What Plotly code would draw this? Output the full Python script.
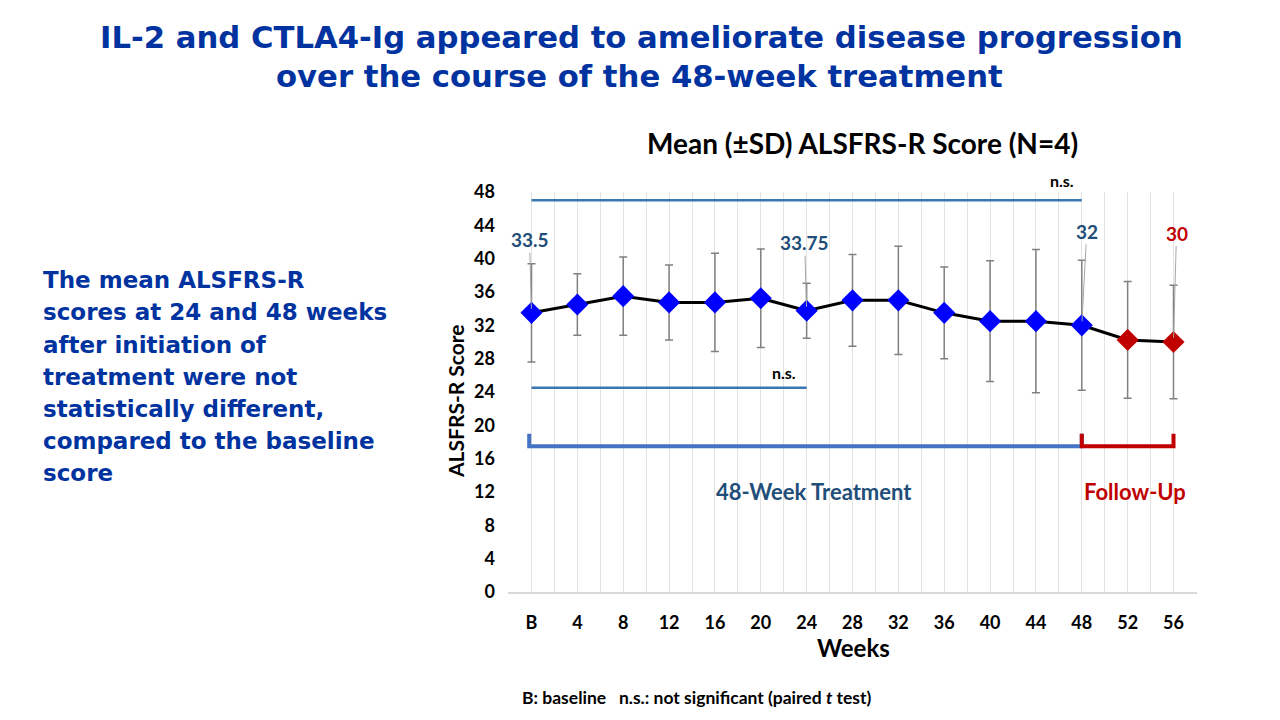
import plotly.graph_objects as go

weeks = [0, 4, 8, 12, 16, 20, 24, 28, 32, 36, 40, 44, 48, 52, 56]
week_labels = ["B", "4", "8", "12", "16", "20", "24", "28", "32", "36", "40", "44", "48", "52", "56"]
mean_score = [33.5, 34.5, 35.5, 34.75, 34.75, 35.25, 33.75, 35.0, 35.0, 33.5, 32.5, 32.5, 32.0, 30.25, 30.0]
sd_score = [5.9, 3.7, 4.7, 4.5, 5.9, 5.9, 3.3, 5.5, 6.5, 5.5, 7.25, 8.6, 7.8, 7.0, 6.8]
phase = ["T"] * 13 + ["F"] * 2
y_ticks = list(range(0, 49, 4))

BLUE_MARK = "#0000FF"
RED = "#C00000"
STEEL = "#1F4E79"
NAVY = "#0033A0"
LINE_BLUE = "#3A78B4"
BRACKET_BLUE = "#4472C4"
FONT = "Lato"

marker_colors = [BLUE_MARK if p == "T" else RED for p in phase]

fig = go.Figure()
fig.add_trace(go.Scatter(
    x=weeks, y=mean_score, mode="lines+markers",
    line=dict(color="black", width=3),
    marker=dict(symbol="diamond", size=17, color=marker_colors, line=dict(width=0)),
    error_y=dict(type="data", array=sd_score, visible=True, color="#808080", thickness=1.5, width=4),
    hoverinfo="x+y", showlegend=False, cliponaxis=False,
))

shapes = [
    dict(type="line", xref="x", yref="y", x0=0, x1=48, y0=47, y1=47, line=dict(color=LINE_BLUE, width=2.5)),
    dict(type="line", xref="x", yref="y", x0=0, x1=24, y0=24.5, y1=24.5, line=dict(color=LINE_BLUE, width=2.5)),
    dict(type="path", xref="x", yref="y", path="M -0.2,19 L -0.2,17.5 L 48,17.5 L 48,19", line=dict(color=BRACKET_BLUE, width=4)),
    dict(type="path", xref="x", yref="y", path="M 48,19 L 48,17.5 L 56,17.5 L 56,19", line=dict(color=RED, width=4)),
]

annotations = []
for xv, yv, txt, col, ax, ay in [
    (0, 33.5, "33.5", STEEL, -2, -73),
    (24, 33.75, "33.75", STEEL, -2, -68),
    (48, 32.0, "32", STEEL, 5, -94),
    (56, 30.0, "30", RED, 3, -109),
]:
    annotations.append(dict(x=xv, y=yv, xref="x", yref="y", text="<b>%s</b>" % txt, showarrow=True,
                            arrowhead=0, arrowwidth=1, arrowcolor="#A6A6A6", ax=ax, ay=ay, standoff=4,
                            font=dict(family=FONT, size=19, color=col)))

def data_text(x, y, text, size, color):
    return dict(x=x, y=y, xref="x", yref="y", text=text, showarrow=False, xanchor="center",
                yanchor="middle", font=dict(family=FONT, size=size, color=color))

annotations += [
    data_text(22.0, 26.3, "<b>n.s.</b>", 16, "black"),
    data_text(24.65, 12.1, "<b>48-Week Treatment</b>", 22, STEEL),
    data_text(52.6, 12.1, "<b>Follow-Up</b>", 22, RED),
]

L, R, T, B = 508, 83, 192, 128
PW, PH = 1280 - L - R, 720 - T - B

def px(xp):
    return (xp - L) / PW

def py(yp):
    return (720 - B - yp) / PH

def paper_text(xp, yp, text, family, size, color, xanchor="center", angle=0):
    return dict(x=px(xp), y=py(yp), xref="paper", yref="paper", text=text, showarrow=False,
                xanchor=xanchor, yanchor="middle", textangle=angle,
                font=dict(family=family, size=size, color=color))

annotations += [
    paper_text(1062, 181, "<b>n.s.</b>", FONT, 16, "black"),
    paper_text(862, 143, "<b>Mean (±SD) ALSFRS-R Score (N=4)</b>", FONT, 28, "black"),
    paper_text(853, 647, "<b>Weeks</b>", FONT, 24, "black"),
    paper_text(455, 401, "<b>ALSFRS-R Score</b>", FONT, 21, "black", angle=-90),
    paper_text(697, 697, "<b>B: baseline   n.s.: not significant (paired <i>t</i> test)</b>", FONT, 17.5, "black"),
    paper_text(641, 37, "<b>IL-2 and CTLA4-Ig appeared to ameliorate disease progression</b>", "DejaVu Sans", 30.7, NAVY),
    paper_text(639, 77, "<b>over the course of the 48-week treatment</b>", "DejaVu Sans", 30.7, NAVY),
]

left_lines = ["The mean ALSFRS-R", "scores at 24 and 48 weeks", "after initiation of",
              "treatment were not", "statistically different,", "compared to the baseline", "score"]
left_y = [280, 312, 345, 377, 409, 441, 473]
for line, yy in zip(left_lines, left_y):
    annotations.append(paper_text(41, yy, "<b>%s</b>" % line, "DejaVu Sans", 23, NAVY, xanchor="left"))

fig.update_layout(
    width=1280, height=720, autosize=False,
    margin=dict(l=L, r=R, t=T, b=B, pad=0),
    paper_bgcolor="white", plot_bgcolor="white",
    shapes=shapes, annotations=annotations,
    font=dict(family=FONT, color="black"),
    xaxis=dict(
        range=[-2.05, 58.05], tickmode="array", tickvals=weeks, ticktext=["<b>%s</b>" % t for t in week_labels],
        tickfont=dict(family=FONT, size=18, color="black"),
        showgrid=True, gridcolor="#E3E3E3", gridwidth=1,
        minor=dict(tickmode="array", tickvals=list(range(-2, 59, 2)), showgrid=True, gridcolor="#E3E3E3", gridwidth=1),
        showline=True, linecolor="#D9D9D9", linewidth=1.5, zeroline=False,
        ticks="", ticklabelstandoff=14, fixedrange=True,
    ),
    yaxis=dict(
        range=[0, 48], tickmode="array", tickvals=y_ticks, ticktext=["<b>%d</b>" % v for v in y_ticks],
        tickfont=dict(family=FONT, size=18, color="black"),
        showgrid=False, zeroline=False, showline=False, ticks="", ticklabelstandoff=12, fixedrange=True,
    ),
)

fig.write_html("out.html")
